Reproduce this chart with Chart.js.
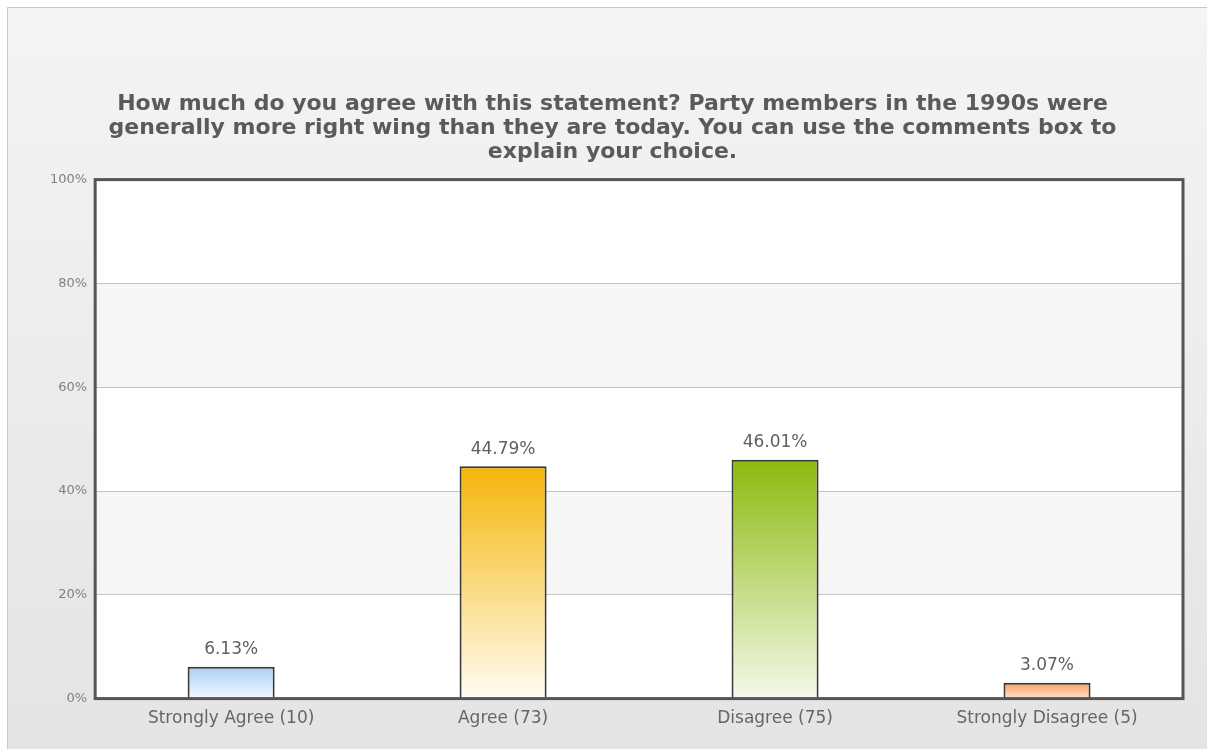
<!DOCTYPE html>
<html>
<head>
<meta charset="utf-8">
<script src="https://cdn.jsdelivr.net/npm/chart.js@4/dist/chart.umd.min.js"></script>
<style>
  html, body { margin: 0; padding: 0; background: #fff; }
  #wrap { width: 1207px; height: 749px; position: relative; }
</style>
</head>
<body>
<div id="wrap"><canvas id="survey-chart" width="1207" height="749"></canvas></div>
<script>
var categories = ['Strongly Agree (10)', 'Agree (73)', 'Disagree (75)', 'Strongly Disagree (5)'];
var percentages = [6.13, 44.79, 46.01, 3.07];
var titleLines = [
    'How much do you agree with this statement? Party members in the 1990s were',
    'generally more right wing than they are today. You can use the comments box to',
    'explain your choice.'
];
var topColors = ['#a9cff5', '#f5b60a', '#8bba0e', '#ff9a58'];
var bottomColors = ['#f2f8ff', '#fffcf2', '#f4f9ea', '#ffe3cf'];

// frame + alternating bands behind the plot
var backdrop = {
    id: 'backdrop',
    beforeDraw: function(chart) {
        var c = chart.ctx, a = chart.chartArea, y = chart.scales.y;
        c.save();
        var g = c.createLinearGradient(0, 7, 0, chart.height);
        g.addColorStop(0, '#f4f4f4');
        g.addColorStop(1, '#e4e4e4');
        c.fillStyle = g;
        c.fillRect(7, 7, chart.width - 7, chart.height - 7);
        c.strokeStyle = '#c8c8c8';
        c.lineWidth = 1;
        c.beginPath();
        c.moveTo(7.5, chart.height);
        c.lineTo(7.5, 7.5);
        c.lineTo(chart.width, 7.5);
        c.stroke();
        c.fillStyle = '#ffffff';
        c.fillRect(a.left, a.top, a.right - a.left, a.bottom - a.top);
        c.fillStyle = '#f6f6f6';
        [[20, 40], [60, 80]].forEach(function(b) {
            var y1 = y.getPixelForValue(b[1]), y0 = y.getPixelForValue(b[0]);
            c.fillRect(a.left, y1, a.right - a.left, y0 - y1);
        });
        c.restore();
    },
    afterDatasetsDraw: function(chart) {
        var c = chart.ctx, a = chart.chartArea;
        c.save();
        c.strokeStyle = '#555555';
        c.lineWidth = 3;
        c.strokeRect(a.left, a.top, a.right - a.left, a.bottom - a.top);
        c.restore();
    }
};

// value labels above each bar
var valueLabels = {
    id: 'valueLabels',
    afterDatasetsDraw: function(chart) {
        var c = chart.ctx;
        var meta = chart.getDatasetMeta(0);
        c.save();
        c.font = '17px "DejaVu Sans", sans-serif';
        c.fillStyle = '#606060';
        c.textAlign = 'center';
        c.textBaseline = 'middle';
        meta.data.forEach(function(bar, i) {
            c.fillText(percentages[i].toFixed(2) + '%', bar.x, bar.y - 17);
        });
        c.restore();
    }
};

var ctx = document.getElementById('survey-chart').getContext('2d');
var surveyChart = new Chart(ctx, {
    type: 'bar',
    data: {
        labels: categories,
        datasets: [{
            data: percentages,
            backgroundColor: function(context) {
                var chart = context.chart;
                if (!chart.chartArea) return topColors[context.dataIndex];
                var y = chart.scales.y;
                var top = y.getPixelForValue(percentages[context.dataIndex]);
                var bottom = y.getPixelForValue(0);
                var g = chart.ctx.createLinearGradient(0, top, 0, bottom);
                g.addColorStop(0, topColors[context.dataIndex]);
                g.addColorStop(1, bottomColors[context.dataIndex]);
                return g;
            },
            borderColor: '#383838',
            borderWidth: 2,
            barPercentage: 0.32,
            categoryPercentage: 1.0
        }]
    },
    options: {
        responsive: false,
        animation: false,
        layout: { padding: { top: 92, right: 24, left: 42, bottom: 10 } },
        plugins: {
            legend: { display: false },
            tooltip: { enabled: false },
            title: {
                display: true,
                text: titleLines,
                color: '#5a5a5a',
                font: { family: '"DejaVu Sans", sans-serif', size: 22, weight: 'bold', lineHeight: 1.1 },
                padding: { top: 0, bottom: 15 }
            }
        },
        scales: {
            x: {
                grid: { display: false, drawTicks: false, tickLength: 0 },
                border: { display: false },
                ticks: { color: '#666666', font: { family: '"DejaVu Sans", sans-serif', size: 17 }, padding: 10 }
            },
            y: {
                min: 0,
                max: 100,
                ticks: {
                    stepSize: 20,
                    color: '#808080',
                    font: { family: '"DejaVu Sans", sans-serif', size: 13 },
                    padding: 8,
                    callback: function(v) { return v + '%'; }
                },
                grid: { color: '#c4c4c4', lineWidth: 1, drawTicks: false },
                border: { display: false }
            }
        }
    },
    plugins: [backdrop, valueLabels]
});
</script>
</body>
</html>
